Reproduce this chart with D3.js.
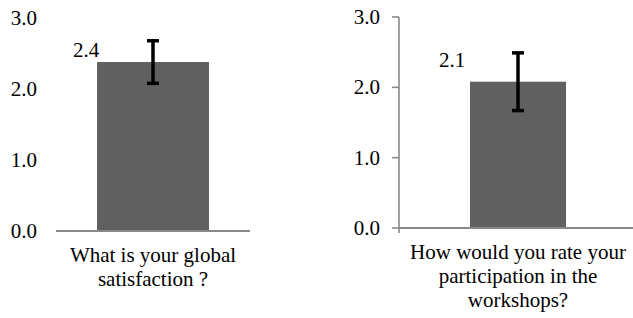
<!DOCTYPE html>
<html>
<head>
<meta charset="utf-8">
<script src="https://cdn.jsdelivr.net/npm/d3@7"></script>
<style>
  html, body { margin: 0; padding: 0; background: #fff; }
  svg { display: block; }
</style>
</head>
<body>
<svg id="chart" width="633" height="318"></svg>
<script>
// ---- data ----
const categories = [
  "What is your global satisfaction ?",
  "How would you rate your participation in the workshops?"
];
const categoryLines = [
  ["What is your global", "satisfaction ?"],
  ["How would you rate your", "participation in the", "workshops?"]
];
const means = [2.38, 2.08];
const errors = [0.30, 0.41];
const yTicks = [0, 1, 2, 3];
const yTickLabels = ["0.0", "1.0", "2.0", "3.0"];

// ---- layout (per panel) ----
const panels = [
  { x0: 56,  x1: 250, yBottom: 231, yTop: 18, pad: 0.268, showAxis: false, labelDx: -67, labelDy: -5 },
  { x0: 399, x1: 637, yBottom: 228, yTop: 17, pad: 0.425, showAxis: true,  labelDx: -66, labelDy: -14.5 }
];

const FONT = "'Times New Roman', 'Liberation Serif', 'DejaVu Serif', serif";
const svg = d3.select("#chart")
  .attr("font-family", FONT)
  .style("font-family", FONT);
const FS = 21;
const axisColor = "#898989";
const barColor = "#606060";
const fmt = d3.format(".1f");

panels.forEach((p, i) => {
  const g = svg.append("g");
  const x = d3.scaleBand().domain([categories[i]]).range([p.x0, p.x1])
    .paddingInner(p.pad).paddingOuter(p.pad);
  const y = d3.scaleLinear().domain([0, 3]).range([p.yBottom, p.yTop]);

  // y tick labels
  g.selectAll("text.ytick").data(yTicks).join("text")
    .attr("class", "ytick")
    .attr("x", p.x0 - 19)
    .attr("y", d => y(d))
    .attr("dy", "0.34em")
    .attr("text-anchor", "end")
    .attr("font-size", FS)
    .attr("font-family", FONT)
    .attr("fill", "#000")
    .text((d, k) => yTickLabels[k]);

  // y axis line and ticks (only for right panel)
  if (p.showAxis) {
    g.append("line")
      .attr("x1", p.x0).attr("x2", p.x0)
      .attr("y1", y(3)).attr("y2", y(0) + 5)
      .attr("stroke", axisColor).attr("stroke-width", 1.6);
    g.selectAll("line.ytk").data(yTicks).join("line")
      .attr("class", "ytk")
      .attr("x1", p.x0 - 7).attr("x2", p.x0)
      .attr("y1", d => y(d)).attr("y2", d => y(d))
      .attr("stroke", axisColor).attr("stroke-width", 1.6);
  }

  // bar
  const cat = categories[i];
  g.append("rect")
    .attr("x", x(cat))
    .attr("y", y(means[i]))
    .attr("width", x.bandwidth())
    .attr("height", y(0) - y(means[i]))
    .attr("fill", barColor);

  // baseline
  g.append("line")
    .attr("x1", p.x0).attr("x2", p.x1)
    .attr("y1", y(0)).attr("y2", y(0))
    .attr("stroke", axisColor).attr("stroke-width", 2);

  // error bar
  const cx = x(cat) + x.bandwidth() / 2;
  const hi = means[i] + errors[i], lo = means[i] - errors[i];
  const eb = g.append("g").attr("stroke", "#000").attr("stroke-width", 3.5);
  eb.append("line").attr("x1", cx).attr("x2", cx).attr("y1", y(hi)).attr("y2", y(lo));
  eb.append("line").attr("x1", cx - 6).attr("x2", cx + 6).attr("y1", y(hi)).attr("y2", y(hi));
  eb.append("line").attr("x1", cx - 6).attr("x2", cx + 6).attr("y1", y(lo)).attr("y2", y(lo));

  // value label
  g.append("text")
    .attr("x", cx + p.labelDx)
    .attr("y", y(means[i]) + p.labelDy)
    .attr("text-anchor", "middle")
    .attr("font-size", FS)
    .attr("font-family", FONT)
    .attr("fill", "#000")
    .text(fmt(means[i]));

  // category label
  const t = g.append("text")
    .attr("text-anchor", "middle")
    .attr("font-size", FS)
    .attr("font-family", FONT)
    .attr("fill", "#000");
  categoryLines[i].forEach((ln, k) => {
    t.append("tspan")
      .attr("x", cx)
      .attr("y", y(0) + 31 + k * 24)
      .text(ln);
  });
});
</script>
</body>
</html>
